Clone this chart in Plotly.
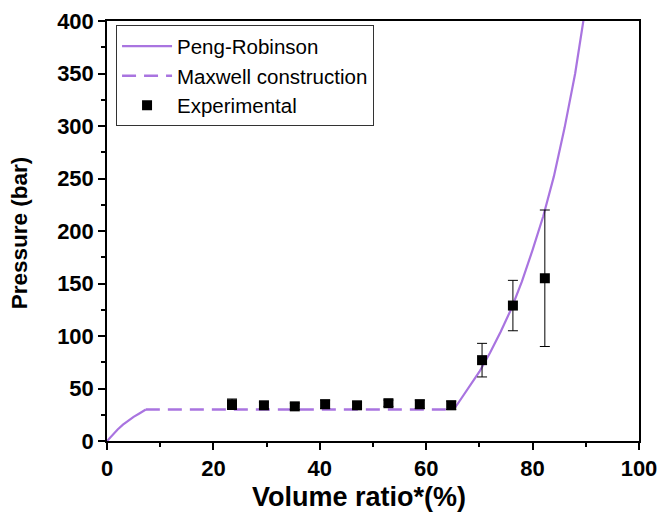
import plotly.graph_objects as go

# Peng-Robinson curve (lower branch, upper branch)
pr_low_x = [0, 1, 2, 3, 4, 5, 6, 7, 7.3]
pr_low_y = [0, 6, 11, 15.5, 19.5, 23, 26, 29, 30]
pr_high_x = [65.2, 66, 68, 70, 72, 74, 76, 78, 80, 82, 84, 86, 88, 89, 90]
pr_high_y = [30, 36, 51, 66, 84, 104, 126, 152, 182, 214, 252, 298, 350, 380, 415]

# Maxwell construction
mx_x = [7.3, 65.2]
mx_y = [30, 30]

# Experimental data
exp_x = [23.5, 29.5, 35.3, 41.0, 47.0, 52.9, 58.8, 64.7, 70.5, 76.3, 82.3]
exp_y = [35, 34, 33, 35, 34, 36, 35, 34, 77, 129, 155]
exp_err = [5, 3, 3, 4, 3, 3, 4, 4, 16, 24, 65]

x_title = "Volume ratio*(%)"
y_title = "Pressure (bar)"

purple = "#A974E0"
font_family = "Liberation Sans, Arial, sans-serif"

fig = go.Figure()
fig.add_trace(go.Scatter(x=pr_low_x, y=pr_low_y, mode="lines",
                         line=dict(color=purple, width=2.2),
                         name="Peng-Robinson", legendgroup="pr"))
fig.add_trace(go.Scatter(x=pr_high_x, y=pr_high_y, mode="lines",
                         line=dict(color=purple, width=2.2),
                         name="Peng-Robinson", legendgroup="pr", showlegend=False))
fig.add_trace(go.Scatter(x=mx_x, y=mx_y, mode="lines",
                         line=dict(color=purple, width=2.5, dash="14px,8px"),
                         name="Maxwell construction"))
fig.add_trace(go.Scatter(x=exp_x, y=exp_y, mode="markers",
                         marker=dict(symbol="square", color="black", size=10),
                         error_y=dict(type="data", array=exp_err, visible=True,
                                      color="black", thickness=1, width=5),
                         name="Experimental"))

fig.add_annotation(text=x_title, xref="paper", yref="paper", x=0.4737, y=-0.133,
                   xanchor="center", yanchor="middle", showarrow=False,
                   font=dict(size=27, family=font_family, weight="bold", color="black"))
fig.add_annotation(text=y_title, xref="paper", yref="paper", x=-0.165, y=0.495,
                   xanchor="center", yanchor="middle", showarrow=False, textangle=-90,
                   font=dict(size=22.5, family=font_family, weight="bold", color="black"))

fig.update_layout(
    width=664, height=515,
    margin=dict(l=99, r=33, t=13, b=82),
    paper_bgcolor="white", plot_bgcolor="white",
    font=dict(family=font_family, color="black"),
    showlegend=True,
    legend=dict(x=0.017, y=0.99, xanchor="left", yanchor="top",
                bordercolor="#333", borderwidth=1, bgcolor="white",
                font=dict(size=20.5, family=font_family),
                tracegroupgap=0, itemwidth=50),
    xaxis=dict(range=[0, 100], tickvals=[0, 20, 40, 60, 80, 100], automargin=False,
               ticklabeloverflow="allow",
               ticks="outside", ticklen=7, tickwidth=1.5, tickcolor="black",
               minor=dict(dtick=10, ticks="outside", ticklen=4, tickcolor="black", tickwidth=1.5),
               showline=True, linecolor="black", linewidth=1.5, mirror=True,
               showgrid=False, zeroline=False,
               tickfont=dict(size=22, family=font_family, weight="bold")),
    yaxis=dict(range=[0, 400], dtick=50, automargin=False,
               ticklabeloverflow="allow",
               ticks="outside", ticklen=7, tickwidth=1.5, tickcolor="black",
               minor=dict(dtick=25, ticks="outside", ticklen=4, tickcolor="black", tickwidth=1.5),
               showline=True, linecolor="black", linewidth=1.5, mirror=True,
               showgrid=False, zeroline=False,
               tickfont=dict(size=22, family=font_family, weight="bold")),
)

fig.write_html("out.html")
